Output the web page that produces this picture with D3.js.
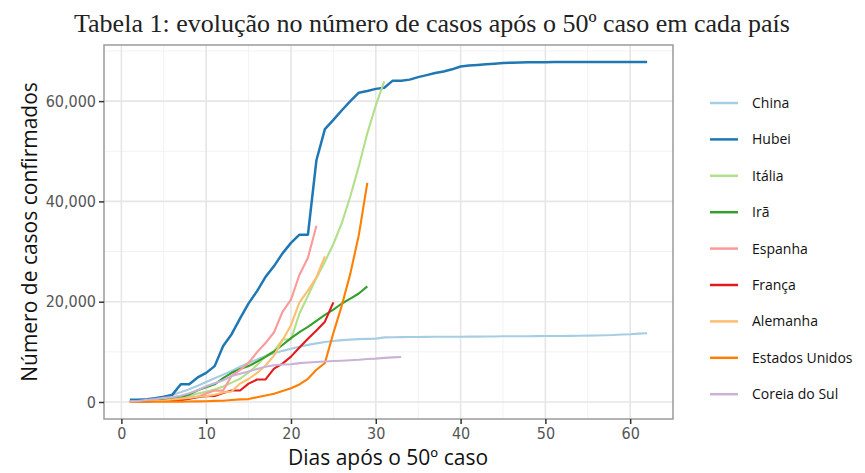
<!DOCTYPE html>
<html>
<head>
<meta charset="utf-8">
<script src="https://cdn.jsdelivr.net/npm/d3@7"></script>
<style>
  body { margin: 0; background: #fff; }
  svg { display: block; }
</style>
</head>
<body>
<svg id="chart" width="865" height="473"></svg>
<script>
var width = 865;
var height = 473;

// casos confirmados por dia, a partir do 50º caso (dia 1)
var china   = [104, 199, 371, 645, 1017, 1454, 1955, 2533, 3238, 3996, 4738, 5453, 6194, 7029, 7775, 8475, 9157, 9714, 10198, 10626, 11020, 11393, 11689, 11952, 12164, 12331, 12445, 12529, 12588, 12635, 12888, 12917, 12938, 12954, 12968, 12979, 13004, 13014, 13019, 13025, 13033, 13044, 13054, 13071, 13098, 13104, 13116, 13117, 13127, 13148, 13151, 13159, 13187, 13209, 13235, 13259, 13302, 13356, 13450, 13505, 13635, 13698];
var hubei   = [444, 444, 549, 761, 1058, 1423, 3554, 3554, 4903, 5806, 7153, 11177, 13522, 16678, 19665, 22112, 24953, 27100, 29631, 31728, 33366, 33366, 48206, 54406, 56249, 58182, 59989, 61682, 62031, 62442, 62662, 64084, 64084, 64287, 64786, 65187, 65596, 65914, 66337, 66907, 67103, 67217, 67332, 67466, 67592, 67666, 67707, 67743, 67760, 67773, 67781, 67786, 67790, 67794, 67798, 67799, 67800, 67800, 67800, 67800, 67800, 67800];
var italia  = [62, 155, 229, 322, 453, 655, 888, 1128, 1694, 2036, 2502, 3089, 3858, 4636, 5883, 7375, 9172, 10149, 12462, 12462, 17660, 21157, 24747, 27980, 31506, 35713, 41035, 47021, 53578, 59138, 63927];
var ira     = [61, 95, 139, 245, 388, 593, 978, 1501, 2336, 2922, 3513, 4747, 5823, 6566, 7161, 8042, 9000, 10075, 11364, 12729, 13938, 14991, 16169, 17361, 18407, 19644, 20610, 21638, 23049];
var espanha = [84, 120, 165, 222, 259, 400, 500, 673, 1073, 1695, 2277, 2277, 5232, 6391, 7798, 9942, 11748, 13910, 17963, 20410, 25374, 28768, 35136];
var franca  = [57, 100, 130, 191, 204, 288, 380, 656, 957, 1134, 1217, 1792, 2289, 2289, 3672, 4480, 4513, 6650, 7652, 9043, 10871, 12612, 14282, 16018, 19856];
var alemanha = [79, 130, 159, 196, 262, 482, 670, 799, 1040, 1176, 1457, 1908, 2078, 3675, 4585, 5795, 7272, 9257, 12327, 15320, 19848, 22213, 24873, 29056];
var eua     = [51, 51, 57, 58, 60, 68, 74, 98, 118, 149, 217, 262, 402, 518, 583, 959, 1281, 1663, 2179, 2727, 3499, 4632, 6421, 7783, 13747, 19273, 25600, 33276, 43700];
var coreia  = [104, 204, 433, 602, 833, 977, 1261, 1766, 2337, 3150, 3736, 4335, 5186, 5621, 6088, 6593, 7041, 7314, 7478, 7513, 7755, 7869, 7979, 8086, 8162, 8236, 8320, 8413, 8565, 8652, 8799, 8897, 8961];

var seriesNames = ['China', 'Hubei', 'Itália', 'Irã', 'Espanha', 'França', 'Alemanha', 'Estados Unidos', 'Coreia do Sul'];
var seriesValues = [china, hubei, italia, ira, espanha, franca, alemanha, eua, coreia];
var seriesColors = ['#a6cee3', '#1f78b4', '#b2df8a', '#33a02c', '#fb9a99', '#e31a1c', '#fdbf6f', '#ff7f00', '#cab2d6'];

var xTicks = [0, 10, 20, 30, 40, 50, 60];
var yTicks = [0, 20000, 40000, 60000];

var svg = d3.select('#chart');

// escalas (com expansão de 5% como no ggplot)
var xScale = d3.scaleLinear().domain([-2.05, 65.05]).range([104, 673]);
var yScale = d3.scaleLinear().domain([-3390, 71190]).range([419, 45]);

var xMinor = [5, 15, 25, 35, 45, 55];
var yMinor = [10000, 30000, 50000, 70000];

// grade
var grid = svg.append('g');
grid.selectAll('.vminor').data(xMinor).enter().append('line')
  .attr('x1', function(d) { return xScale(d); })
  .attr('x2', function(d) { return xScale(d); })
  .attr('y1', 45).attr('y2', 419)
  .attr('stroke', '#f2f2f2').attr('stroke-width', 1);
grid.selectAll('.hminor').data(yMinor).enter().append('line')
  .attr('x1', 104).attr('x2', 673)
  .attr('y1', function(d) { return yScale(d); })
  .attr('y2', function(d) { return yScale(d); })
  .attr('stroke', '#f2f2f2').attr('stroke-width', 1);
grid.selectAll('.vmajor').data(xTicks).enter().append('line')
  .attr('x1', function(d) { return xScale(d); })
  .attr('x2', function(d) { return xScale(d); })
  .attr('y1', 45).attr('y2', 419)
  .attr('stroke', '#e6e6e6').attr('stroke-width', 1.6);
grid.selectAll('.hmajor').data(yTicks).enter().append('line')
  .attr('x1', 104).attr('x2', 673)
  .attr('y1', function(d) { return yScale(d); })
  .attr('y2', function(d) { return yScale(d); })
  .attr('stroke', '#e6e6e6').attr('stroke-width', 1.6);

// linhas
var line = d3.line()
  .x(function(d, i) { return xScale(i + 1); })
  .y(function(d) { return yScale(d); });

svg.append('g').selectAll('path')
  .data(seriesValues)
  .enter()
  .append('path')
  .attr('d', function(d) { return line(d); })
  .attr('fill', 'none')
  .attr('stroke', function(d, i) { return seriesColors[i]; })
  .attr('stroke-width', function(d, i) { return i === 1 ? 2.5 : 2.1; })
  .attr('stroke-linejoin', 'round');

// borda do painel
svg.append('rect')
  .attr('x', 104).attr('y', 45)
  .attr('width', 673 - 104).attr('height', 419 - 45)
  .attr('fill', 'none').attr('stroke', '#9a9a9a').attr('stroke-width', 1.5);

var tickFont = '"Liberation Sans Narrow", "DejaVu Sans Condensed", "Roboto", sans-serif';

// eixos
var xAxis = svg.append('g')
  .attr('transform', 'translate(0,419)')
  .call(d3.axisBottom(xScale).tickValues(xTicks).tickSize(5).tickPadding(4));
var yAxis = svg.append('g')
  .attr('transform', 'translate(104,0)')
  .call(d3.axisLeft(yScale).tickValues(yTicks).tickFormat(d3.format(',')).tickSize(5).tickPadding(3));

[xAxis, yAxis].forEach(function(ax) {
  ax.select('.domain').remove();
  ax.selectAll('.tick line').attr('stroke', '#333').attr('stroke-width', 1.5);
  ax.selectAll('.tick text')
    .attr('fill', '#555')
    .style('font-family', tickFont)
    .style('font-size', '16px');
});

// títulos
svg.append('text')
  .attr('x', 432).attr('y', 32)
  .attr('text-anchor', 'middle')
  .style('font-family', '"Liberation Serif", "Times New Roman", serif')
  .style('font-size', '26px')
  .attr('fill', '#222')
  .text('Tabela 1: evolução no número de casos após o 50º caso em cada país');

svg.append('text')
  .attr('x', 388).attr('y', 465)
  .attr('text-anchor', 'middle')
  .style('font-family', '"Open Sans", "Noto Sans", sans-serif')
  .style('font-size', '21px')
  .attr('fill', '#111')
  .text('Dias após o 50º caso');

svg.append('text')
  .attr('transform', 'translate(37,232) rotate(-90)')
  .attr('text-anchor', 'middle')
  .style('font-family', '"Open Sans", "Noto Sans", sans-serif')
  .style('font-size', '21px')
  .attr('fill', '#111')
  .text('Número de casos confirmados');

// legenda
var legend = svg.append('g').selectAll('g')
  .data(seriesNames)
  .enter()
  .append('g')
  .attr('transform', function(d, i) { return 'translate(710,' + (103 + i * 36.4) + ')'; });

legend.append('line')
  .attr('x1', 0).attr('x2', 28)
  .attr('y1', 0).attr('y2', 0)
  .attr('stroke', function(d, i) { return seriesColors[i]; })
  .attr('stroke-width', 2.5);

legend.append('text')
  .attr('x', 42).attr('y', 5)
  .style('font-family', '"Open Sans", "Noto Sans", sans-serif')
  .style('font-size', '14px')
  .attr('fill', '#111')
  .text(function(d) { return d; });
</script>
</body>
</html>
